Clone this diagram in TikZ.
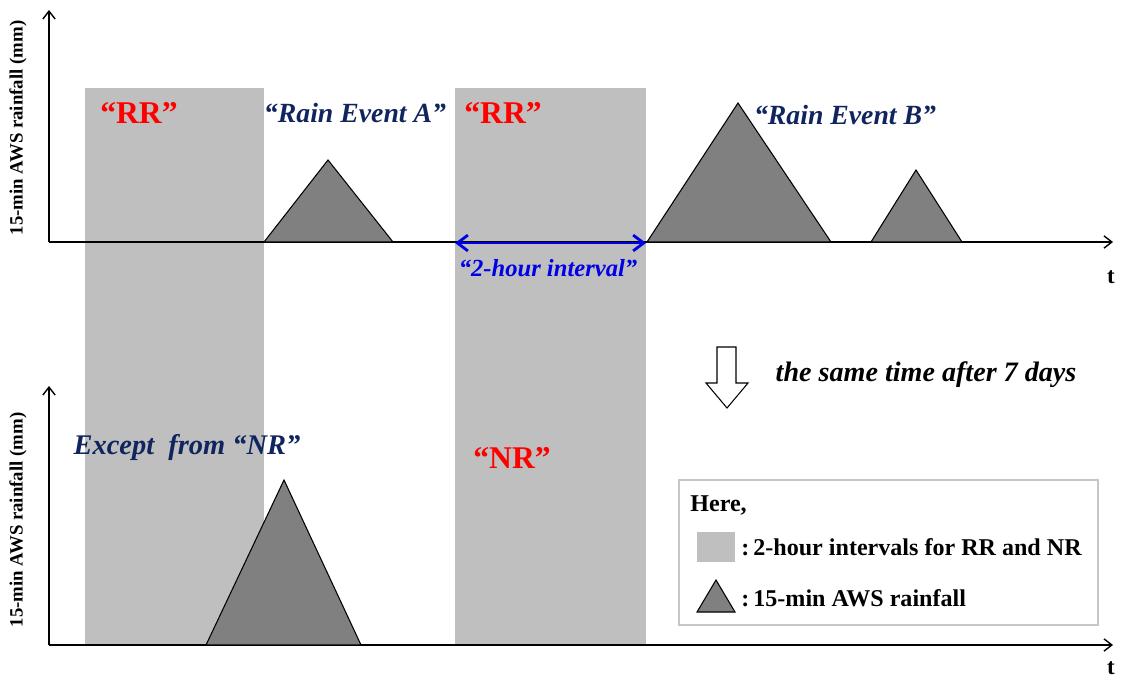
\documentclass[tikz,border=0pt]{standalone}
\usepackage{fontspec}
\setmainfont{Liberation Serif}
\usetikzlibrary{arrows.meta}
\definecolor{boxgray}{RGB}{191,191,191}
\definecolor{raingray}{RGB}{128,128,128}
\definecolor{navy}{RGB}{16,36,94}
\definecolor{ivblue}{RGB}{0,0,230}
\tikzset{
  axis/.style={line width=0.8pt,-{Straight Barb[length=4.5pt,width=7pt]}},
  rain/.style={fill=raingray,draw=black,line width=0.6pt,line join=miter},
  period/.style={fill=boxgray},
  tag/.style={inner sep=0pt,font=\bfseries\fontsize{18}{20}\selectfont,text=red},
  event/.style={inner sep=0pt,font=\bfseries\itshape\fontsize{15.8}{18}\selectfont,text=navy},
  ylab/.style={inner sep=0pt,rotate=90,font=\bfseries\fontsize{10.7}{12}\selectfont},
  legtxt/.style={inner sep=0pt,anchor=west,font=\bfseries\fontsize{13.7}{16}\selectfont}
}
\begin{document}
\begin{tikzpicture}[x=0.02cm,y=-0.02cm]
\useasboundingbox (0,0) rectangle (1121,679);
%\draw[help lines,step=50](0,0)grid(1121,679);
\fill[period] (85,88) rectangle (264,645);
\fill[period] (455,88) rectangle (646,645);
% upper panel
\coordinate (o1) at (49,242);
\draw[axis] (o1) -- (49,10);
\draw[axis] (o1) -- (1113,242);
\filldraw[rain] (264,242)--(328,160)--(393,242)--cycle;
\filldraw[rain] (647,242)--(738,103)--(831,242)--cycle;
\filldraw[rain] (871,242)--(916,170)--(962,242)--cycle;
\coordinate (s1) at (455,243);
\coordinate (e1) at (646,243);
\draw[ivblue,line width=1.6pt,{Straight Barb[length=6pt,width=9pt]}-{Straight Barb[length=6pt,width=9pt]}] (s1) -- (e1);
\node[ylab] (ly1) at (18,128) {15-min AWS rainfall (mm)};
\node[tag] (rr1) at (139,113) {“RR”};
\node[tag] (rr2) at (503,113) {“RR”};
\node[event] (ea) at (355,113) {“Rain Event A”};
\node[event] (eb) at (845,115) {“Rain Event B”};
\node[inner sep=0pt,text=ivblue,font=\bfseries\itshape\fontsize{14}{16}\selectfont] (iv) at (548,268) {“2-hour interval”};
\node[inner sep=0pt,font=\bfseries\fontsize{13}{15}\selectfont] (t1) at (1111,277) {t};
% shift
\draw[line width=0.6pt,line join=miter] (717,347)--(736,347)--(736,383)--(748,383)--(727,408)--(706,383)--(717,383)--cycle;
\node[inner sep=0pt,font=\bfseries\itshape\fontsize{16}{18}\selectfont] (after) at (926,375) {the same time after 7 days};
% lower panel
\coordinate (o2) at (49,645);
\draw[axis] (o2) -- (49,386);
\draw[axis] (o2) -- (1113,645);
\filldraw[rain] (206,645)--(284,480)--(361,645)--cycle;
\node[ylab] (ly2) at (18,520) {15-min AWS rainfall (mm)};
\node[event,font=\bfseries\itshape\fontsize{16.2}{18}\selectfont] (ex) at (187,448) {Except\ \ from “NR”};
\node[tag] (nr) at (512,458) {“NR”};
\node[inner sep=0pt,font=\bfseries\fontsize{13}{15}\selectfont] (t2) at (1111,668) {t};
% legend
\draw[gray!45,line width=0.6pt] (679,480) rectangle (1098,625);
\node[legtxt] (here) at (690,505) {Here,};
\fill[period] (697,532) rectangle (735,562);
\filldraw[rain] (697,612)--(716,580)--(735,612)--cycle;
\node[legtxt] (lg1) at (741,547) {:\,2-hour intervals for RR and NR};
\node[legtxt] (lg2) at (741,598) {:\,15-min AWS rainfall};
\end{tikzpicture}
\end{document}
